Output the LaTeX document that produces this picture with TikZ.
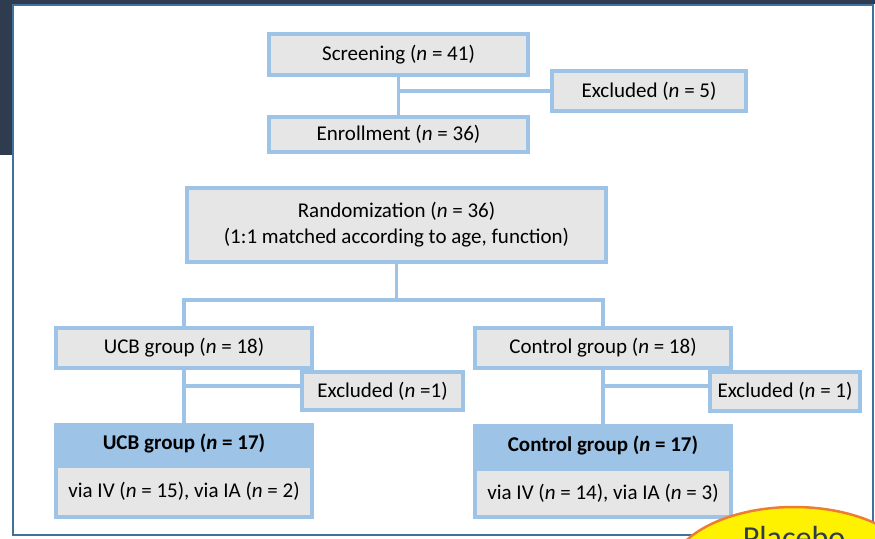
\documentclass[tikz,border=0pt]{standalone}
\usepackage{fontspec}
\setmainfont{Carlito}
\usetikzlibrary{calc}

\definecolor{boxblue}{RGB}{157,195,230}
\definecolor{boxgrey}{RGB}{230,230,230}
\definecolor{frameblue}{RGB}{65,113,156}
\definecolor{slidenavy}{RGB}{47,60,80}
\definecolor{noteorange}{RGB}{237,125,49}

\begin{document}
\begin{tikzpicture}[x=1pt,y=-1pt,
        font=\fontsize{21}{26}\selectfont,
        flowbox/.style={draw=boxblue, line width=4pt, fill=boxgrey, inner sep=0pt, align=center},
        headbox/.style={flowbox, fill=boxblue},
        link/.style={draw=boxblue, line width=3.5pt}]
            \useasboundingbox (0,0) rectangle (875,538);
            \clip (0,0) rectangle (875,538);
            %slide
            \fill[slidenavy] (0,0) rectangle (13,155);
            \fill[slidenavy] (0,0) rectangle (875,4);
            \draw[frameblue, line width=2pt, fill=white] (13,5) rectangle (873,535);

            %nodes
            \node[flowbox, minimum width=259pt, minimum height=41pt] (screen) at (398.5,54.5) {Screening (\textit{n} = 41)};
            \node[flowbox, minimum width=194pt, minimum height=40pt] (excl1) at (649,91) {Excluded (\textit{n} = 5)};
            \node[flowbox, minimum width=259pt, minimum height=35pt] (enroll) at (398.5,134.5) {Enrollment (\textit{n} = 36)};
            \node[flowbox, minimum width=419pt, minimum height=74pt] (random) at (396.5,225) {Randomization (\textit{n} = 36)\\(1:1 matched according to age, function)};
            \node[flowbox, minimum width=256pt, minimum height=40pt] (ucb18) at (184,348) {UCB group (\textit{n} = 18)};
            \node[flowbox, minimum width=256pt, minimum height=40pt] (ctrl18) at (603,348) {Control group (\textit{n} = 18)};
            \node[flowbox, minimum width=161pt, minimum height=38pt] (exclA) at (382.5,391) {Excluded (\textit{n} =1)};
            \node[flowbox, minimum width=150pt, minimum height=39pt] (exclB) at (785,391.5) {Excluded (\textit{n} = 1)};
            \node[headbox, minimum width=256pt, minimum height=37pt] (ucb17) at (184,443.5) {\textbf{UCB group (\textit{n} = 17)}};
            \node[flowbox, minimum width=256pt, minimum height=51pt] (ucb17via) at (184,491.5) {via IV (\textit{n} = 15), via IA (\textit{n} = 2)};
            \node[headbox, minimum width=256pt, minimum height=39pt] (ctrl17) at (603,445.5) {\textbf{Control group (\textit{n} = 17)}};
            \node[flowbox, minimum width=256pt, minimum height=48pt] (ctrl17via) at (603,493) {via IV (\textit{n} = 14), via IA (\textit{n} = 3)};

            %links
            \draw[link] (screen.south) -- (enroll.north);
            \draw[link] (screen.south |- excl1.west) -- (excl1.west);
            \coordinate (split) at ($(random.south)+(0,36)$);
            \draw[link] (random.south) -- (split);
            \draw[link] (ucb18.north) |- (split) -| (ctrl18.north);
            \draw[link] (ucb18.south) -- (ucb17.north);
            \coordinate (ucbfork) at ($(ucb18.south)!0.3!(ucb17.north)$);
            \draw[link] (ucbfork) -- (ucbfork -| exclA.west);
            \draw[link] (ctrl18.south) -- (ctrl17.north);
            \coordinate (ctrlfork) at ($(ctrl18.south)!0.3!(ctrl17.north)$);
            \draw[link] (ctrlfork) -- (ctrlfork -| exclB.west);

            %note
            \draw[noteorange, line width=2.5pt, fill=yellow] (794,575) ellipse [x radius=125, y radius=68];
            \node[font=\fontsize{32}{38}\selectfont, text=slidenavy, anchor=base] (placebo) at (794,548) {Placebo};
        \end{tikzpicture}
\end{document}
